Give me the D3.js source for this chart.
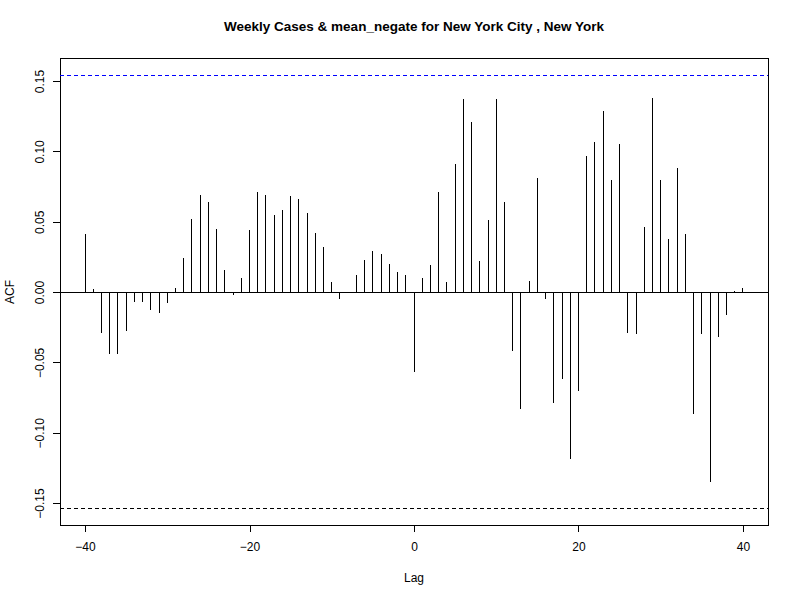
<!DOCTYPE html>
<html><head><meta charset="utf-8">
<script src="https://cdn.jsdelivr.net/npm/d3@7"></script>
<style>body{margin:0;background:#fff}text{font-family:"Liberation Sans",Arial,sans-serif}line,rect,path{shape-rendering:crispEdges}</style>
</head><body><svg width="800" height="600"></svg>
<script>
var lags = d3.range(-40, 41);
var acf = [0.041,0.002,-0.029,-0.044,-0.044,-0.028,-0.007,-0.007,-0.013,-0.015,
  -0.008,0.003,0.024,0.052,0.069,0.064,0.045,0.016,-0.002,0.010,
  0.044,0.071,0.069,0.055,0.058,0.068,0.066,0.056,0.042,0.032,
  0.007,-0.005,-0.001,0.012,0.023,0.029,0.027,0.020,0.014,0.012,
  -0.057,0.010,0.019,0.071,0.007,0.091,0.137,0.121,0.022,0.051,
  0.137,0.064,-0.042,-0.083,0.008,0.081,-0.005,-0.079,-0.062,-0.119,
  -0.070,0.097,0.107,0.129,0.080,0.105,-0.029,-0.030,0.046,0.138,
  0.080,0.038,0.088,0.041,-0.087,-0.030,-0.135,-0.032,-0.016,0.001,0.003];
var ci = 0.154;
var xTicks = [-40, -20, 0, 20, 40];
var yTicks = [-0.15, -0.10, -0.05, 0.00, 0.05, 0.10, 0.15];

var svg = d3.select('svg');
var x = d3.scaleLinear().domain([-43.04, 43.04]).range([60, 768]);
var y = d3.scaleLinear().domain([-0.1656, 0.1664]).range([525, 58]);

// box
svg.append('rect').attr('x',60).attr('y',58).attr('width',708).attr('height',467)
  .attr('fill','none').attr('stroke','#000');

// axes
var xa = svg.append('g').attr('transform','translate(0,525)')
  .call(d3.axisBottom(x).tickValues(xTicks).tickSize(7).tickFormat(d3.format('d')));
xa.select('.domain').attr('d','M'+x(-40)+',0H'+x(40));
xa.selectAll('text').attr('font-size',12).attr('dy','1.3em').attr('font-family','"Liberation Sans",Arial,sans-serif');

var ya = svg.append('g').attr('transform','translate(60,0)')
  .call(d3.axisLeft(y).tickValues(yTicks).tickSize(7).tickFormat(d3.format('.2f')));
ya.select('.domain').attr('d','M0,'+y(-0.15)+'V'+y(0.15));
ya.selectAll('text').attr('font-size',12).attr('font-family','"Liberation Sans",Arial,sans-serif')
  .attr('x',0).attr('dy',0).attr('text-anchor','middle')
  .attr('transform','translate(-16,0) rotate(-90)');

// zero line & CI
svg.append('line').attr('x1',60).attr('x2',768).attr('y1',y(0)).attr('y2',y(0)).attr('stroke','#000');
svg.append('line').attr('x1',60).attr('x2',768).attr('y1',y(ci)).attr('y2',y(ci))
  .attr('stroke','#0000ff').attr('stroke-dasharray','4,3');
svg.append('line').attr('x1',60).attr('x2',768).attr('y1',y(-ci)).attr('y2',y(-ci))
  .attr('stroke','#000').attr('stroke-dasharray','4,3');

// spikes
svg.selectAll('.spike').data(lags).enter().append('line').attr('class','spike')
  .attr('x1',function(d){return x(d);}).attr('x2',function(d){return x(d);})
  .attr('y1',y(0)).attr('y2',function(d,i){return y(acf[i]);})
  .attr('stroke','#000').attr('stroke-width',1);

svg.append('text').text('Weekly Cases & mean_negate for New York City , New York')
  .attr('x',414).attr('y',31).attr('text-anchor','middle').attr('font-weight','bold').attr('font-size',13.5);
svg.append('text').text('Lag').attr('x',414).attr('y',582).attr('text-anchor','middle').attr('font-size',12);
svg.append('text').text('ACF').attr('transform','translate(14,292) rotate(-90)').attr('text-anchor','middle').attr('font-size',12);
</script></body></html>
